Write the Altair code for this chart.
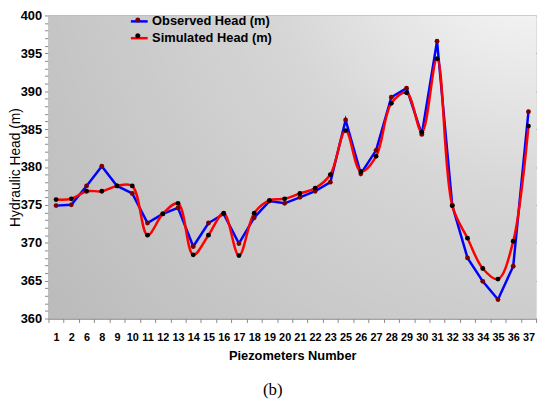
import altair as alt
import pandas as pd

piezometers = ["1", "2", "6", "8", "9", "10", "11", "12", "13", "14", "15", "16",
               "17", "18", "19", "20", "21", "22", "23", "25", "26", "27", "28", "29",
               "30", "31", "32", "33", "34", "35", "36", "37"]
observed = [374.9, 375.0, 377.5, 380.1, 377.5, 376.5, 372.6, 373.8, 374.6, 369.5, 372.6, 373.8,
            369.9, 373.3, 375.5, 375.2, 376.0, 376.8, 378.0, 386.2, 379.1, 382.2, 389.2, 390.4,
            384.3, 396.6, 374.9, 368.0, 364.9, 362.5, 366.9, 387.3]
simulated = [375.7, 375.8, 376.8, 376.8, 377.5, 377.5, 371.0, 373.8, 375.2, 368.4, 371.0, 373.9,
             368.3, 373.9, 375.6, 375.8, 376.5, 377.2, 379.0, 384.8, 379.4, 381.4, 388.4, 389.8,
             384.6, 394.3, 374.9, 370.6, 366.6, 365.2, 370.2, 385.4]
series_names = ["Observed Head (m)", "Simulated Head (m)"]
y_ticks = list(range(360, 401))

n = len(piezometers)
df = pd.DataFrame({
    "piezo": piezometers * 2,
    "value": observed + simulated,
    "series": [series_names[0]] * n + [series_names[1]] * n,
})

W, H = 494, 307
FONT = "Liberation Sans"
LX, LY = 82, -4

x_enc = alt.X(
    "piezo:N", sort=piezometers,
    scale=alt.Scale(type="band", paddingInner=0, paddingOuter=0),
    axis=alt.Axis(title="Piezometers Number", labelAngle=0, tickBand="extent",
                  labelFont=FONT, labelFontWeight="bold", labelFontSize=11, labelColor="#000",
                  titleFont=FONT, titleFontWeight="bold", titleFontSize=13, titleColor="#000",
                  tickColor="#888", tickSize=4, domainColor="#888", labelPadding=9,
                  titlePadding=8, labelOverlap=False, grid=False),
)
y_enc = alt.Y(
    "value:Q",
    scale=alt.Scale(domain=[360, 400], nice=False, zero=False),
    axis=alt.Axis(title="Hydraulic Head (m)", values=y_ticks,
                  labelExpr="datum.value % 5 === 0 ? datum.label : ''",
                  labelFont=FONT, labelFontWeight="bold", labelFontSize=13, labelColor="#000",
                  titleFont=FONT, titleFontSize=14, titleFontWeight="normal", titleColor="#000",
                  titleX=-26, titleY=H / 2,
                  tickColor="#888", tickSize=4, domainColor="#888",
                  gridColor="#8a8a8a",
                  gridOpacity={"condition": {"test": "datum.value % 5 === 0", "value": 1}, "value": 0},
                  labelOverlap=False, labelPadding=3),
)

stroke_scale = alt.Scale(domain=series_names, range=["#0000ff", "#ff0000"])
fill_scale = alt.Scale(range=["#7a0000", "#000000"])

stroke_legend = alt.Legend(orient="none", legendX=LX, legendY=LY, symbolType="M-1,0H1",
                           symbolSize=289, symbolStrokeWidth=2.5, labelFont=FONT,
                           labelFontWeight="bold", labelFontSize=13, labelColor="#000",
                           rowPadding=0, padding=0, labelOffset=3, zindex=1)
fill_legend = alt.Legend(orient="none", legendX=LX, legendY=LY,
                         symbolType="M-0.3,0A0.3,0.3,0,1,0,0.3,0A0.3,0.3,0,1,0,-0.3,0Z",
                         symbolSize=289, symbolStrokeWidth=0, labelExpr="''",
                         labelFont=FONT, labelFontWeight="bold", labelFontSize=13,
                         rowPadding=0, padding=0, labelOffset=3, zindex=2)

background = alt.Chart(alt.Data(values=[{}])).mark_rect(
    fill={"gradient": "radial", "x1": 1, "y1": 0, "r1": 0, "x2": 1, "y2": 0, "r2": 1.25,
          "stops": [{"offset": 0, "color": "#ffffff"},
                    {"offset": 0.45, "color": "#d6d6d6"},
                    {"offset": 1, "color": "#bcbcbc"}]},
).encode(x=alt.value(0), x2=alt.value(W), y=alt.value(0), y2=alt.value(H))

base = alt.Chart(df)

obs_line = base.transform_filter(alt.datum.series == series_names[0]).mark_line(
    strokeWidth=2.5).encode(
    x=x_enc, y=y_enc,
    stroke=alt.Stroke("series:N", scale=stroke_scale, title=None, legend=stroke_legend))
sim_line = base.transform_filter(alt.datum.series == series_names[1]).mark_line(
    strokeWidth=2.5, interpolate="catmull-rom").encode(
    x=x_enc, y=y_enc,
    stroke=alt.Stroke("series:N", scale=stroke_scale, title=None, legend=stroke_legend))
points = base.mark_circle(size=24, opacity=1).encode(
    x=x_enc, y=y_enc,
    fill=alt.Fill("series:N", scale=fill_scale, title=None, legend=fill_legend))

chart = alt.layer(background, obs_line, sim_line, points).properties(
    width=W, height=H,
    autosize=alt.AutoSizeParams(type="none"),
    padding={"left": 41, "top": 5, "right": 6, "bottom": 79},
    title=alt.TitleParams(text="(b)", orient="bottom", font="Liberation Serif", fontSize=17,
                          fontWeight="normal", color="#000", frame="bounds", offset=20),
).configure_view(stroke="#888", strokeWidth=1).configure(background="white")

chart.save("out.html", embed_options={"renderer": "svg", "actions": False})
